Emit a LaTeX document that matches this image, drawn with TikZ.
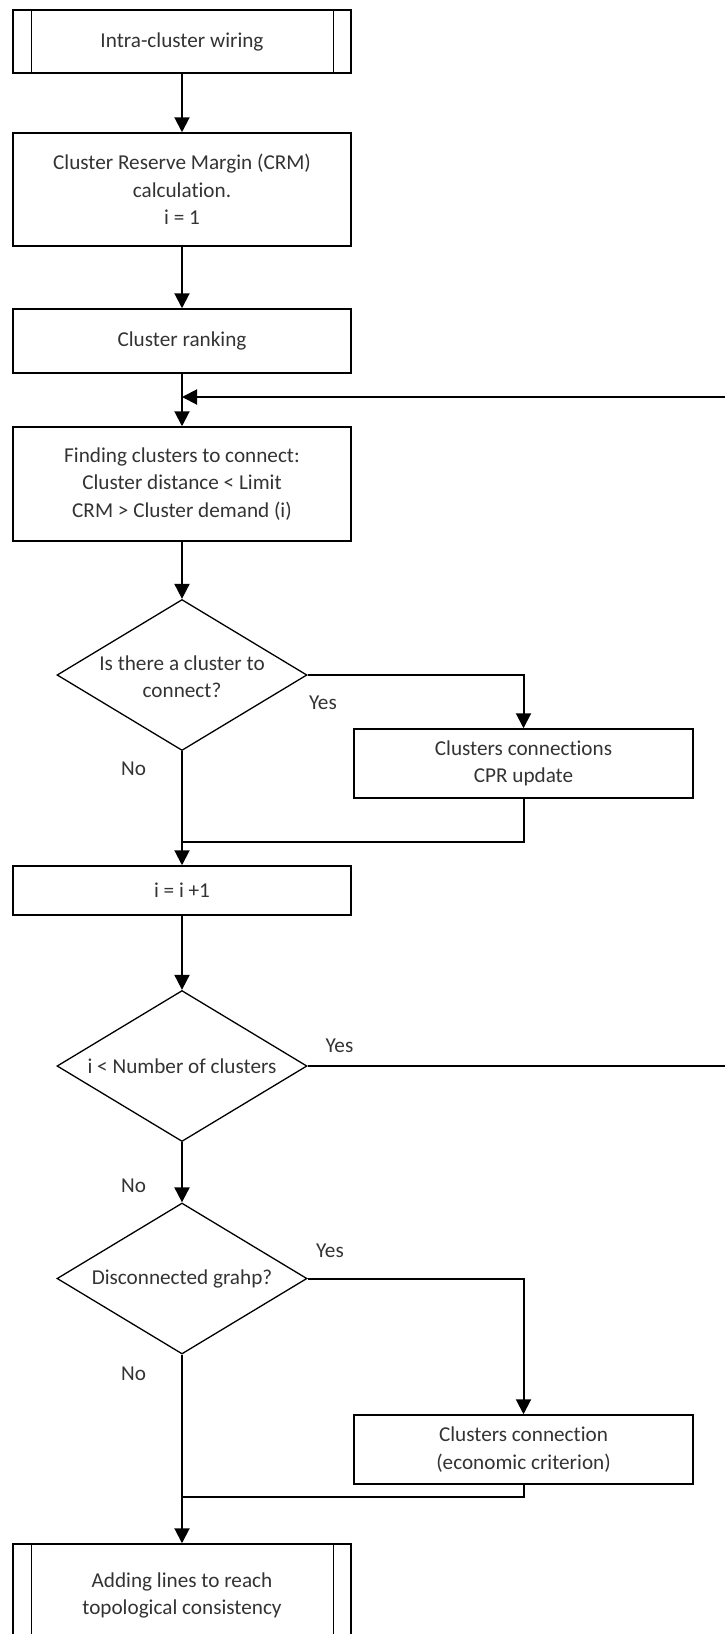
\documentclass[tikz,border=0pt]{standalone}
\usepackage{fontspec}
\setmainfont{Carlito}[RawFeature={-liga}]
\usetikzlibrary{arrows.meta,shapes.geometric}

\begin{document}
\begin{tikzpicture}[x=1pt,y=-1pt,
  every node/.style={font=\fontsize{21.2}{27.3}\selectfont, text=black!80},
  proc/.style={draw=black, line width=1.5pt, rectangle, minimum width=338pt,
               inner sep=0pt, align=center},
  decision/.style={draw=black, line width=1.3pt, diamond, minimum width=250pt,
                   minimum height=151pt, inner sep=0pt},
  dtext/.style={align=center, inner sep=0pt},
  flow/.style={line width=2pt, draw=black},
  arr/.style={flow, -{Triangle[length=15pt,width=15pt]}},
  tag/.style={inner sep=0pt}
]
\useasboundingbox (0,0) rectangle (725,1634);
\clip (0,0) rectangle (725,1634);

% process boxes on the main column
\node[proc, minimum height=63pt]  (wiring)  at (182,41.5)  {Intra-cluster wiring};
\node[proc, minimum height=113pt] (crm)     at (182,189.5) {Cluster Reserve Margin (CRM)\\calculation.\\i = 1};
\node[proc, minimum height=64pt]  (rank)    at (182,341)   {Cluster ranking};
\node[proc, minimum height=114pt] (find)    at (182,484)   {Finding clusters to connect:\\Cluster distance < Limit\\CRM > Cluster demand (i)};
\node[decision] (anyc) at (182,675) {};
\node[dtext] (anyct) at (182,676.5) {Is there a cluster to\\connect?};
\node[proc, minimum width=339pt, minimum height=69pt] (conn) at (523.5,763.5) {Clusters connections\\CPR update};
\node[proc, minimum height=49pt]  (incr)    at (182,890.5) {i = i +1};
\node[decision] (more) at (182,1066) {};
\node[dtext] (moret) at (182,1066) {i < Number of clusters};
\node[decision] (disc) at (182,1278.5) {};
\node[dtext] (disct) at (182,1278.5) {Disconnected grahp?};
\node[proc, minimum width=339pt, minimum height=69pt] (econ) at (523.5,1449.5) {Clusters connection\\(economic criterion)};
\node[proc, minimum height=103pt] (addl)    at (182,1595.5) {Adding lines to reach\\topological consistency};

% side bars of the predefined-process boxes
\foreach \b in {wiring, addl} {
  \draw[line width=1.5pt] ([xshift=19.3pt]\b.north west) -- ([xshift=19.3pt]\b.south west);
  \draw[line width=1.5pt] ([xshift=-18.3pt]\b.north east) -- ([xshift=-18.3pt]\b.south east);
}

% branch labels
\node[tag] (y1) at (323,703)    {Yes};
\node[tag] (n1) at (133.5,769)  {No};
\node[tag] (y2) at (339.5,1046) {Yes};
\node[tag] (n2) at (133.5,1186) {No};
\node[tag] (y3) at (330,1251)   {Yes};
\node[tag] (n3) at (133.5,1374) {No};

% junction and loop coordinates
\coordinate (m1) at (182,842);
\coordinate (m2) at (182,1497);
\coordinate (fb) at (182,397);
\coordinate (loopR) at (745,397);

% connectors
\draw[arr] (wiring) -- (crm);
\draw[arr] (crm) -- (rank);
\draw[arr] (rank) -- (find);
\draw[arr] (find) -- (anyc);
\draw[arr] (anyc.east) -| (conn.north);
\draw[arr] (anyc.south) -- (incr.north);
\draw[flow] (conn.south) |- (m1);
\draw[arr] (incr) -- (more);
\draw[arr] (more.south) -- (disc.north);
\draw[arr] (more.east) -| (loopR) -- (fb);
\draw[arr] (disc.east) -| (econ.north);
\draw[arr] (disc.south) -- (addl.north);
\draw[flow] (econ.south) |- (m2);
\end{tikzpicture}
\end{document}
